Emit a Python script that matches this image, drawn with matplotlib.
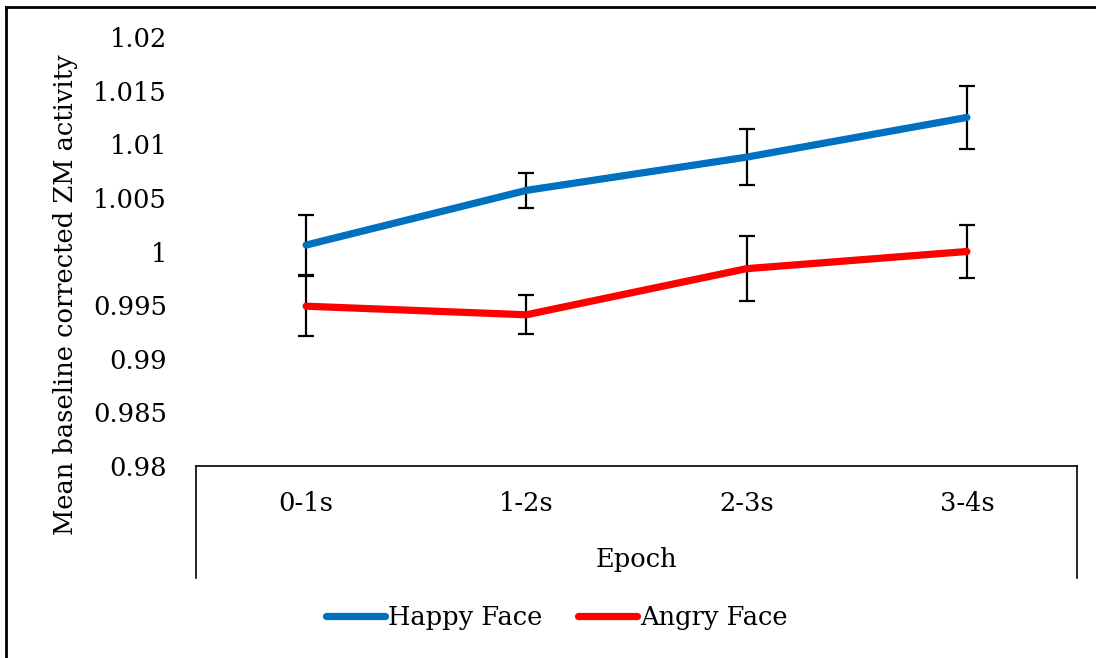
import matplotlib
matplotlib.use("Agg")
import matplotlib.pyplot as plt
from matplotlib.lines import Line2D

categories = ["0-1s", "1-2s", "2-3s", "3-4s"]
happy = [1.0006, 1.0057, 1.0088, 1.0125]
happy_err = [0.0028, 0.0016, 0.0026, 0.0029]
angry = [0.9949, 0.9941, 0.9984, 1.0000]
angry_err = [0.0028, 0.0018, 0.0030, 0.0025]
yticks = [0.98, 0.985, 0.99, 0.995, 1.0, 1.005, 1.01, 1.015, 1.02]
ytick_labels = ["0.98", "0.985", "0.99", "0.995", "1", "1.005", "1.01", "1.015", "1.02"]

plt.rcParams['font.family'] = ['DejaVu Serif']
FS = 18.5

W, H = 1096, 658
fig = plt.figure(figsize=(W / 100, H / 100), dpi=100)
AX_L, AX_R, AX_T, AX_B = 196, 1077, 37, 466
ax = fig.add_axes([AX_L / W, 1 - AX_B / H, (AX_R - AX_L) / W, (AX_B - AX_T) / H])

x = list(range(len(categories)))
blue = "#0070C0"
red = "#FF0000"

for vals, errs in [(happy, happy_err), (angry, angry_err)]:
    ax.errorbar(x, vals, yerr=errs, fmt='none', ecolor='black', elinewidth=1.6,
                capsize=6, capthick=1.6, zorder=2)
for vals, col, lab in [(happy, blue, "Happy Face"), (angry, red, "Angry Face")]:
    ax.plot(x, vals, color=col, lw=5.2, solid_capstyle='round',
            solid_joinstyle='round', zorder=3, label=lab)

ax.set_xlim(-0.5, len(categories) - 0.5)
ax.set_ylim(0.98, 1.02)
ax.set_yticks(yticks)
ax.set_yticklabels(ytick_labels, fontsize=FS)
ax.tick_params(axis='y', length=0, pad=21)
ax.set_xticks(x)
ax.set_xticklabels(categories, fontsize=FS)
ax.tick_params(axis='x', length=0, pad=18)
for s in ['top', 'right', 'left']:
    ax.spines[s].set_visible(False)
ax.spines['bottom'].set_linewidth(1.2)

# category axis box (multi-level style)
drop = -(578 - AX_B) / (AX_B - AX_T)
for xx in [0, 1]:
    ax.add_line(Line2D([xx, xx], [0, drop], transform=ax.transAxes,
                       color='black', lw=1.2, clip_on=False))

ax.set_ylabel("Mean baseline corrected ZM activity", fontsize=FS)
ax.yaxis.set_label_coords(-(AX_L - 78) / (AX_R - AX_L), (AX_B - 295) / (AX_B - AX_T))
fig.text((AX_L + AX_R) / 2 / W, 1 - 560 / H, "Epoch", fontsize=FS, ha='center', va='center')

handles, labels = ax.get_legend_handles_labels()
fig.legend(handles, labels, loc='center', bbox_to_anchor=(557 / W, 1 - 617 / H),
           ncol=2, frameon=False, fontsize=FS, handlelength=2.3,
           handletextpad=0.1, columnspacing=1.4)

# outer border (left and top)
fig.add_artist(Line2D([6 / W, 6 / W], [0, 1 - 7 / H], transform=fig.transFigure,
                      color='black', lw=2))
fig.add_artist(Line2D([6 / W, 1], [1 - 7 / H, 1 - 7 / H], transform=fig.transFigure,
                      color='black', lw=2))

fig.savefig("out.png", dpi=100)
